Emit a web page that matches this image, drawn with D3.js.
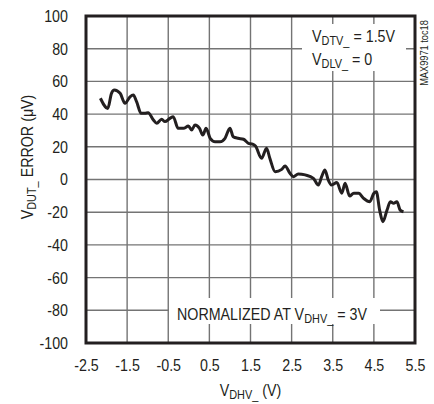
<!DOCTYPE html>
<html>
<meta charset="utf-8">
<title>MAX9971 toc18</title>
<style>
html, body { margin: 0; padding: 0; background: #fff; }
svg { display: block; }
text { font-family: "Liberation Sans", Arial, sans-serif; fill: #231f20; }
.grid line { stroke: #747474; stroke-width: 1.4; }
.tick-label { font-size: 17px; }
</style>
<body>
<svg></svg>
<script src="https://d3js.org/d3.v7.min.js"></script>
<script>

// V_DHV_ (V)
var vdhv = [-2.15, -1.97, -1.88, -1.81, -1.67, -1.55, -1.43, -1.35, -1.27, -1.16,
  -1.07, -0.99, -0.86, -0.78, -0.66, -0.58, -0.46, -0.38, -0.26, -0.13,
  -0.01, 0.07, 0.15, 0.26, 0.34, 0.42, 0.52, 0.64, 0.76, 0.88,
  1.00, 1.08, 1.20, 1.33, 1.45, 1.55, 1.62, 1.77, 1.89, 1.97,
  2.10, 2.26, 2.34, 2.46, 2.54, 2.66, 2.83, 3.03, 3.15, 3.23,
  3.31, 3.39, 3.47, 3.60, 3.72, 3.80, 3.91, 4.01, 4.13, 4.25,
  4.40, 4.50, 4.56, 4.64, 4.72, 4.82, 4.90, 4.98, 5.06, 5.14, 5.22];
// V_DUT_ ERROR (uV)
var errorUV = [49.7, 43.5, 52.7, 54.7, 52.7, 46.6, 50.6, 51.7, 47.6, 40.5,
  40.5, 40.9, 36.4, 34.4, 36.8, 35.4, 37.4, 38.4, 31.3, 31.3,
  32.7, 30.3, 33.3, 31.3, 27.2, 31.3, 25.2, 23.1, 23.1, 25.2,
  31.3, 26.2, 25.2, 24.6, 22.1, 21.6, 20.5, 13.0, 19.1, 13.0,
  4.8, 6.2, 8.3, 3.8, 1.7, 3.4, 2.8, 0.7, -3.4, 1.7,
  5.8, -0.3, -3.4, -1.9, -8.4, -2.3, -10.1, -8.4, -8.4, -11.5,
  -13.6, -8.4, -7.5, -18.7, -25.8, -18.7, -13.6, -14.6, -13.6, -18.7, -19.7];

var xTicks = [-2.5, -1.5, -0.5, 0.5, 1.5, 2.5, 3.5, 4.5, 5.5];
var yTicks = [-100, -80, -60, -40, -20, 0, 20, 40, 60, 80, 100];

var narrow = 0.84; // condensed look

var svg = d3.select("svg").attr("width", 434).attr("height", 404);

var margin = {top: 16, right: 19, bottom: 61, left: 86},
    width = 434 - margin.left - margin.right,
    height = 404 - margin.top - margin.bottom;

var x = d3.scaleLinear().domain([-2.5, 5.5]).range([0, width]),
    y = d3.scaleLinear().domain([-100, 100]).range([height, 0]);

var g = svg.append("g")
    .attr("transform", "translate(" + margin.left + "," + margin.top + ")");

// grid
var grid = g.append("g").attr("class", "grid");
grid.selectAll("line.v").data(xTicks).enter().append("line")
    .attr("x1", function(d) { return x(d); }).attr("x2", function(d) { return x(d); })
    .attr("y1", 0).attr("y2", height);
grid.selectAll("line.h").data(yTicks).enter().append("line")
    .attr("y1", function(d) { return y(d); }).attr("y2", function(d) { return y(d); })
    .attr("x1", 0).attr("x2", width);

// white boxes behind annotations
g.append("rect").attr("x", 216).attr("y", 8).attr("width", 104).attr("height", 47).attr("fill", "#fff");
g.append("rect").attr("x", 83).attr("y", 282).attr("width", 211).attr("height", 26).attr("fill", "#fff");

// axes (labels only)
var fmt = function(d) { return String(d); };
var xAxis = g.append("g")
    .attr("transform", "translate(0," + height + ")")
    .call(d3.axisBottom(x).tickValues(xTicks).tickSize(0).tickPadding(16)
      .tickFormat(function(d) { return d.toFixed(1); }));
var yAxis = g.append("g")
    .call(d3.axisLeft(y).tickValues(yTicks).tickSize(0).tickPadding(18 / narrow).tickFormat(fmt));
[xAxis, yAxis].forEach(function(a) {
  a.select(".domain").remove();
  a.attr("font-family", null).attr("font-size", null);
  a.selectAll("text").attr("class", "tick-label").attr("fill", "#231f20")
    .attr("transform", "scale(" + narrow + ",1)");
});

// frame
g.append("rect").attr("x", 0).attr("y", 0).attr("width", width).attr("height", height)
    .attr("fill", "none").attr("stroke", "#231f20").attr("stroke-width", 3);

// data line
var line = d3.line()
    .x(function(d, i) { return x(vdhv[i]); })
    .y(function(d) { return y(d); })
    .curve(d3.curveMonotoneX);
g.append("path").datum(errorUV)
    .attr("d", line)
    .attr("fill", "none")
    .attr("stroke", "#231f20")
    .attr("stroke-width", 3)
    .attr("stroke-linejoin", "round");

// labels with subscripts, condensed by a horizontal scale
function subLabel(parent, tx, ty, rot, parts) {
  var t = parent.append("text")
      .attr("transform", "translate(" + tx + "," + ty + ")" + (rot ? " rotate(-90)" : "") +
        " scale(" + narrow + ",1)")
      .attr("font-size", 17);
  parts.forEach(function(p) {
    var s = t.append("tspan").text(p[0]);
    if (p[1] === "sub") s.attr("font-size", 13).attr("dy", 3);
    else if (p[1] === "back") s.attr("dy", -3);
  });
  return t;
}

subLabel(g, 226, 26, false, [["V"], ["DTV_", "sub"], [" = 1.5V", "back"]]);
subLabel(g, 226, 49, false, [["V"], ["DLV_", "sub"], [" = 0", "back"]]);
subLabel(g, 91, 304, false, [["NORMALIZED AT V"], ["DHV_", "sub"], [" = 3V", "back"]]);

subLabel(svg, margin.left + width / 2, 396, false, [["V"], ["DHV_", "sub"], [" (V)", "back"]])
    .attr("text-anchor", "middle");
subLabel(svg, 33, 157, true, [["V"], ["DUT_", "sub"], [" ERROR (\u03bcV)", "back"]])
    .attr("text-anchor", "middle");

svg.append("text").attr("transform", "translate(428,53) rotate(-90) scale(" + narrow + ",1)")
    .attr("text-anchor", "middle").attr("font-size", 11)
    .text("MAX9971 toc18");

</script>
</body>
</html>
